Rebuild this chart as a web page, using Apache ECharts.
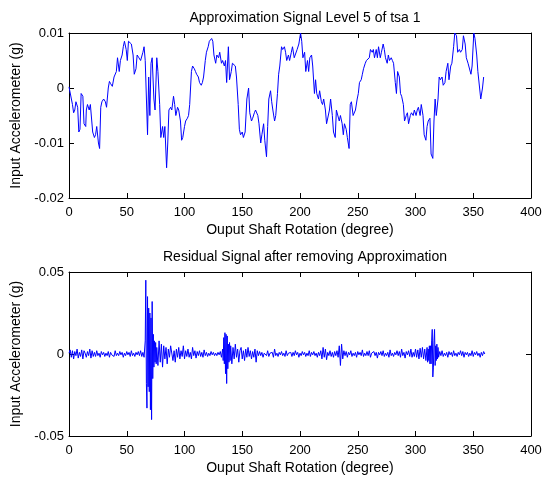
<!DOCTYPE html>
<html>
<head>
<meta charset="utf-8">
<script src="https://cdn.jsdelivr.net/npm/echarts@6/dist/echarts.min.js"></script>
<style>html,body{margin:0;padding:0;background:#fff}#c{width:547px;height:481px}</style>
</head>
<body>
<div id="c"></div>
<script>
// ---- Data (values in milli-g, converted to g when plotted) ----
const topTitle = "Approximation Signal Level 5 of tsa 1";
const bottomTitle = "Residual Signal after removing Approximation";
const xName = "Ouput Shaft Rotation (degree)";
const yName = "Input Accelerometer (g)";
const xTicks = [0, 50, 100, 150, 200, 250, 300, 350, 400];

// Approximation signal: degree positions and values (milli-g)
const approxDeg = [0,1.5,3,4,5,6,7.5,8.5,9.5,10.5,12,13,14.5,15,16,17.5,18.5,19.5,20.5,22,23,24,25.5,26.5,27.5,28.5,30,31.5,32.5,34,35,36,37.5,39,41,42,43.5,44.5,46,47,48,49.5,50.5,51.5,53,54,55.5,56.5,58,59,60.5,62,64,65,66,68,69,70,71,72,73.5,74.5,76,77,78.5,79.5,81,82,83,84.5,85.5,86.5,88,89,90.5,91.5,92.5,94,95,96.5,97.5,98.5,100,101,102.5,103.5,104.5,106,107,108.5,109.5,110.5,112,113,114.5,115.5,116.5,118,119,120.5,121.5,123.5,124.5,125.5,127,128,129.5,130.5,132,133,134.5,135.5,136.5,138,139,140.5,141.5,142.5,144,145,146.5,147.5,148.5,150,151,152.5,154,155.5,156.5,158,159,160.5,161.5,163.5,164.5,166,167,168.5,169.5,171,172,173,174.5,175.5,176.5,178,179,180.5,181.5,182.5,184,185,186.5,187.5,188.5,190,191,192.5,193.5,195,196.5,197.5,199,200.5,201.5,202.5,204,205,206.5,207.5,208.5,210,211,212.5,213.5,214.5,216,217,218.5,219.5,220.5,222,223,224.5,225.5,226.5,228,229,230.5,231.5,232.5,234,235,236.5,237.5,238.5,240,241,242.5,243.5,244.5,246,247,248,249.5,250.5,251.5,253,254,255,256.5,257.5,259,260,261,262.5,263.5,264.5,266,267,268,269.5,270.5,272,273,274,275.5,276.5,277.5,279,280,281,282.5,283.5,284.5,286,287,288,289.5,290.5,292,293,294,295.5,296.5,298,299,300.5,301.5,302.5,304,305,306.5,307.5,309,310,311,312.5,313.5,315,316,317,318,319.5,320.5,321.5,323,324,325.5,326.5,328,329,330.5,331.5,333,334,335.5,336.5,338,339,340.5,341.5,343,344,345.5,346.5,348,349,350.5,351.5,353,354,355.5,356.5,358,359,360];
const approxVal = [0.2,0,-3,-4.5,-4,-2.5,-3.5,-8,-7.5,-1,-1.5,-6.5,-7,-4,-3,-4,-3,-3,-8,-9,-8.5,-7,-10,-11,-3.5,-2.5,-2,-2.5,-3.5,0,1.2,0.8,0.3,2,3,5.5,3,5,6,7.5,8.5,7,5,8.5,8.5,8,6,2.5,3.5,6,5.5,5,6.5,7.5,5,-8.5,2,-5,4.5,5.5,-2,-4,5.5,3,-3,-9,-7,-9,-7,-14.5,-10,-4,-3.5,-4,-1.5,-3,-5,-3.5,-4,-6,-9.5,-9,-7,-6,-5.5,-5,-3,3,4,3.5,3,2.5,2,1,0.5,1,2,5,6.5,7.5,8.5,9,8.5,6,4.5,6,5.5,6.5,4.5,5,4,5,1,7.5,1.5,3,4.5,4.5,4,2,-3,-7.5,-8.5,-8,-9,-8,-2,0,-4.5,-6,-5.5,-4.5,-4,-5,-6.5,-10,-8.5,-6.5,-9.5,-12.5,-7,-2,-0.5,-2.5,-4,-6,-5,-1,2.5,4,7.5,7,7.5,6.5,5,6,5,6.5,7.5,5.5,5.5,7,8,10,8.5,5.5,6.5,3,5,3,5.5,6,4,-1,1.5,-1,-2,-0.5,-2.5,-3,-2,-4,-6.5,-6.5,-4,-2,-5,-8,-9,-4,-4,-6,-5,-6.5,-8.5,-6.5,-7.5,-9,-11,-3,-2.5,-5,-5,-4,-2,-1,1,1.5,2.5,3.5,4.5,5,5,5.5,7,6.5,7,5.5,7,5.5,7.5,5.5,6.5,8,7,5.5,4.5,6,5,5.5,5,4.5,1,-1,3,2,-1,-1.5,-3,-6,-5,-4.5,-6.5,-5,-4.5,-5,-4,-5,-4,-3.5,-5,-3,-5,-8.5,-9.5,-7,-6,-5.5,-12,-12.8,-6,-2,-5,-2,2,1.5,2,0.5,1,3,4.5,1.5,4,4.5,7.5,10,9.5,6.5,7,6.5,7,9.5,8,5.5,4.5,4.5,2.5,4,10,9,6,3,0,-2,0,2];

// Residual signal: uniformly sampled segments [start degree, step, values in milli-g]
const resStart = [0, 65.5, 77, 133.5, 141, 310.5, 321];
const resStep = [1, 0.5, 1, 0.5, 1, 0.5, 1];
const res1 = [0.5,2.5,-2,2,-3,1.5,-1,3,-2.5,1,-1.5,2.5,-3,2,0.5,-2,1.5,-1,3,-2.5,2,-1.5,
  1,-1.5,2,-1,0.5,-2,1.5,-0.5,1,-1.5,0.5,-1,1.5,-2,1,-0.5,0.5,-1.5,2,-1,0.5,-1,1.5,-0.5,1,-2,0.5,-1,1.5,-0.5,1,-1.5,2,-1,0.5,-1.5,1,-0.5,1.5,-1,2,-1.5,1,-2];
const res2 = [-3,8,45,-18,-33,35,-20,28,-23,25,-34,22,-40,32,-15,12,-8,8,-5,7,-6,4];
const res3 = [-7,8,-5,6,-8,5,
  -3,4,-6,3,-2,5,6,-4,2,-5,3,-2,4,-3,2,-1.5,5,
  -3,2,-1.5,3,-2,1,-3,4,-1,2,-2.5,1.5,-1,2,-1.5,1,-2,2.5,-1,1,-1.5,0.5,-1,1.5,-0.5,1,-1,0.5,-1,1,-0.5,1.5,
  -2,3];
const res4 = [-4,10,-6,13,-12,12,-18,11,-9,6,-5,7,-4,5];
const res5 = [-6,4,-3,6,-2,3,-5,2,4,-3,2,-4,3,-2,4,-1.5,2,-3,1.5,-2,3,-5,2,-1,1.5,
  -1,1,-2,0.5,1.5,-1,2,-1.5,0.5,-0.5, 1,-2,3,-1,0.5,-1.5,1,-0.5,1.5,-1, 0.5,-1.5,2,-1,0.5,-0.5,1,-1.5,1,-1, 2,-0.5,1,-2,0.5,-1,1.5,-0.5,1,-1.5, 0.5,-1,2,-1.5,1,-0.5,1.5,-1,0.5,-2, 1,-1,2,
  -3,4,-2,3,-3.5,1,-1,2,-1.5,1,-2,1.5,-1,2,
  -2,5,-7,6,-3,2,
  -1,1.5,-2,1,-0.5,2,-1.5,0.5,-1,1, -2,1.5,-0.5,1,-1,2.5,-1.5,0.5,-1,1.5, -1,2,-2,0.5,-0.5,1.5,-1,1,-2.5,1, -0.5,1.5,-1,2,-1.5,0.5,-1,1,-2,2.5, -1,0.5,-1.5,1,-0.5,2,-1,1.5,-2,3, -1,1,-2.5,1.5,-0.5,2,-1.5,3,-2,1, -1.5,3,-2,2.5,-3,
  3.5,-2,4,-3,3,-4,4];
const res6 = [-5,3,-4,5,-6,5,-6,8,15,-14,-8,8,15,-7,5,-4,6,-3,4,-2];
const res7 = [1.5,-1,2,-1.5,0.5,-1,1,-2,1.5,-0.5,1,-1.5,2,-1,0.5,-1.5,1,-0.5,2,-1,1.5,-2,1,-0.5,1,-1.5,0.5,-1,2,-1.5,1,-0.5,1.5,-1,0.5,-2,1,-1,1.5,0];
const resSegments = [res1, res2, res3, res4, res5, res6, res7];

// ---- Build series data ----
const approxData = approxDeg.map((d, i) => [d, approxVal[i] / 1000]);
const residualData = [];
resSegments.forEach((seg, s) => {
  seg.forEach((v, i) => residualData.push([resStart[s] + i * resStep[s], v / 1000]));
});

const FONT = "Liberation Sans";
const tickTxt = {color: "#000", fontFamily: FONT, fontSize: 13};
const nameTxt = {color: "#000", fontFamily: FONT, fontSize: 14};
function fmt(v) { return String(+v.toFixed(3)); }

const lineCol = {color: "#000", width: 1};
function xAxes(gi) {
  return [
    {gridIndex: gi, type: "value", min: 0, max: 400, interval: 50, position: "bottom",
     axisLine: {onZero: false, lineStyle: lineCol}, axisTick: {inside: true, length: 5, lineStyle: {color: "#000"}},
     axisLabel: Object.assign({margin: 8}, tickTxt), splitLine: {show: false},
     name: xName, nameLocation: "middle", nameGap: 25, nameTextStyle: nameTxt},
    {gridIndex: gi, type: "value", min: 0, max: 400, interval: 50, position: "top",
     axisLine: {onZero: false, lineStyle: lineCol}, axisTick: {inside: true, length: 5, lineStyle: {color: "#000"}},
     axisLabel: {show: false}, splitLine: {show: false}}
  ];
}
function yAxes(gi, mn, mx, iv) {
  return [
    {gridIndex: gi, type: "value", min: mn, max: mx, interval: iv, position: "left",
     axisLine: {show: true, onZero: false, lineStyle: lineCol}, axisTick: {show: true, inside: true, length: 5, lineStyle: {color: "#000"}},
     axisLabel: Object.assign({margin: 5, formatter: fmt}, tickTxt), splitLine: {show: false},
     name: yName, nameLocation: "middle", nameGap: 40, nameRotate: 90, nameTextStyle: nameTxt},
    {gridIndex: gi, type: "value", min: mn, max: mx, interval: iv, position: "right",
     axisLine: {show: true, onZero: false, lineStyle: lineCol}, axisTick: {show: true, inside: true, length: 5, lineStyle: {color: "#000"}},
     axisLabel: {show: false}, splitLine: {show: false}}
  ];
}

const chart = echarts.init(document.getElementById("c"), null, {renderer: "canvas"});
chart.setOption({
  animation: false,
  backgroundColor: "#fff",
  title: [
    {text: topTitle, left: 300, top: 6, textAlign: "center", textStyle: Object.assign({fontWeight: "normal"}, nameTxt)},
    {text: bottomTitle, left: 300, top: 245, textAlign: "center", textStyle: Object.assign({fontWeight: "normal"}, nameTxt)}
  ],
  grid: [
    {left: 69, top: 33, width: 462, height: 165},
    {left: 69, top: 272, width: 462, height: 164}
  ],
  xAxis: xAxes(0).concat(xAxes(1)),
  yAxis: yAxes(0, -0.02, 0.01, 0.01).concat(yAxes(1, -0.05, 0.05, 0.05)),
  series: [
    {type: "line", xAxisIndex: 0, yAxisIndex: 0, data: approxData, showSymbol: false, symbol: "none",
     lineStyle: {color: "#0000ff", width: 1}, itemStyle: {color: "#0000ff"}},
    {type: "line", xAxisIndex: 2, yAxisIndex: 2, data: residualData, showSymbol: false, symbol: "none",
     lineStyle: {color: "#0000ff", width: 1}, itemStyle: {color: "#0000ff"}}
  ]
});
</script>
</body>
</html>
